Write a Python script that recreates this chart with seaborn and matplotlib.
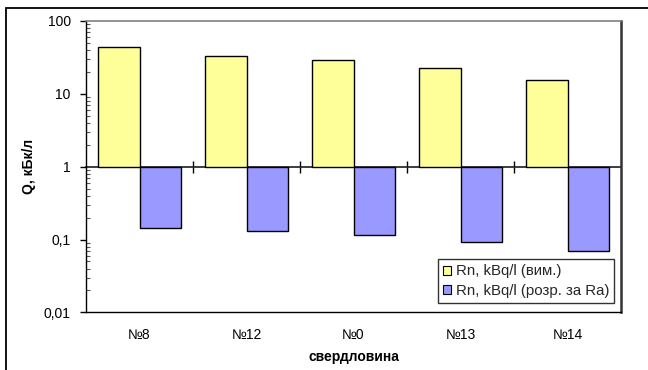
import matplotlib
matplotlib.use("Agg")
import matplotlib.pyplot as plt
from matplotlib.patches import Rectangle
from matplotlib.ticker import FixedLocator, FuncFormatter, LogLocator, NullFormatter
import numpy as np
import pandas as pd
import seaborn as sns

# Radon activity per borehole
wells = ["№8", "№12", "№0", "№13", "№14"]
rn_measured = [44.0, 32.8, 29.4, 22.9, 15.5]        # Rn, kBq/l (вим.)
rn_from_ra = [0.143, 0.132, 0.114, 0.0925, 0.0703]  # Rn, kBq/l (розр. за Ra)
series_names = ["Rn, kBq/l (вим.)", "Rn, kBq/l (розр. за Ra)"]
series_colors = ["#FFFF99", "#9999FF"]
y_ticks = [0.01, 0.1, 1, 10, 100]

df = pd.DataFrame({
    "well": wells * 2,
    "value": rn_measured + rn_from_ra,
    "series": [series_names[0]] * len(wells) + [series_names[1]] * len(wells),
})

sns.set_theme(style="white")
plt.rcParams["font.family"] = ["Liberation Sans", "DejaVu Sans"]

fig = plt.figure(figsize=(6.48, 3.70), dpi=100)
ax = fig.add_axes([86 / 648, 1 - 312.4 / 370, 535 / 648, 291.4 / 370])

sns.barplot(
    data=df, x="well", y="value", hue="series", order=wells,
    hue_order=series_names, palette=series_colors, width=0.77,
    edgecolor="black", linewidth=1.0, saturation=1, errorbar=None, ax=ax,
)

ax.set_yscale("log")
# bars rise or fall from the 1 kBq/l baseline
for container in ax.containers:
    for p in container.patches:
        v = p.get_height()
        p.set_y(1)
        p.set_height(v - 1)

ax.set_ylim(0.01, 100)
ax.set_xlim(-0.5, len(wells) - 0.5)

ax.yaxis.set_major_locator(FixedLocator(y_ticks))
ax.yaxis.set_major_formatter(FuncFormatter(lambda v, _: f"{v:g}".replace(".", ",")))
ax.yaxis.set_minor_locator(LogLocator(base=10, subs=np.arange(2, 10), numticks=20))
ax.yaxis.set_minor_formatter(NullFormatter())
ax.tick_params(axis="y", which="major", direction="out", length=4, width=1,
               color="black", left=True, labelsize=10, pad=7, labelcolor="black")
ax.tick_params(axis="y", which="minor", direction="in", length=3, width=0.8,
               color="#555555", left=True)
ax.tick_params(axis="x", length=0, labelsize=10, pad=11, labelcolor="black")

for side in ["left", "bottom"]:
    ax.spines[side].set_visible(True)
    ax.spines[side].set_color("black")
    ax.spines[side].set_linewidth(1.0)
ax.spines["top"].set_color("#808080")
ax.spines["top"].set_linewidth(1.2)
ax.spines["right"].set_color("#333333")
ax.spines["right"].set_linewidth(1.8)

# category axis crossing at 1 with boundary ticks
sec = ax.secondary_xaxis(0.5)
sec.set_xticks(np.arange(0.5, len(wells) - 1, 1.0))
sec.tick_params(axis="x", direction="inout", length=9, width=1, color="black",
                labelbottom=False, labeltop=False)
sec.spines["bottom"].set_color("black")
sec.spines["bottom"].set_linewidth(1.0)

ax.set_xlabel("свердловина", fontsize=10, fontweight="bold", labelpad=6, color="black")
ax.set_ylabel("Q, кБк/л", fontsize=10, fontweight="bold", labelpad=6, color="black")

sns.move_legend(
    ax, loc="lower right", bbox_to_anchor=(0.9875, 0.031), title=None,
    frameon=True, fontsize=10.8, borderaxespad=0, handlelength=0.55,
    handleheight=0.55, handletextpad=0.3, labelspacing=0.38, borderpad=0.35,
    fancybox=False, edgecolor="black",
)
leg = ax.get_legend()
leg.get_frame().set_linewidth(1.0)
for h in leg.legend_handles:
    h.set_edgecolor("black")
    h.set_linewidth(0.8)

# outer chart frame
fig.patches.append(Rectangle((6 / 648, -0.1), 1.2, 1 - 8 / 370 + 0.1,
                             transform=fig.transFigure, fill=False,
                             edgecolor="black", linewidth=1.3))

fig.savefig("out.png", dpi=100)
